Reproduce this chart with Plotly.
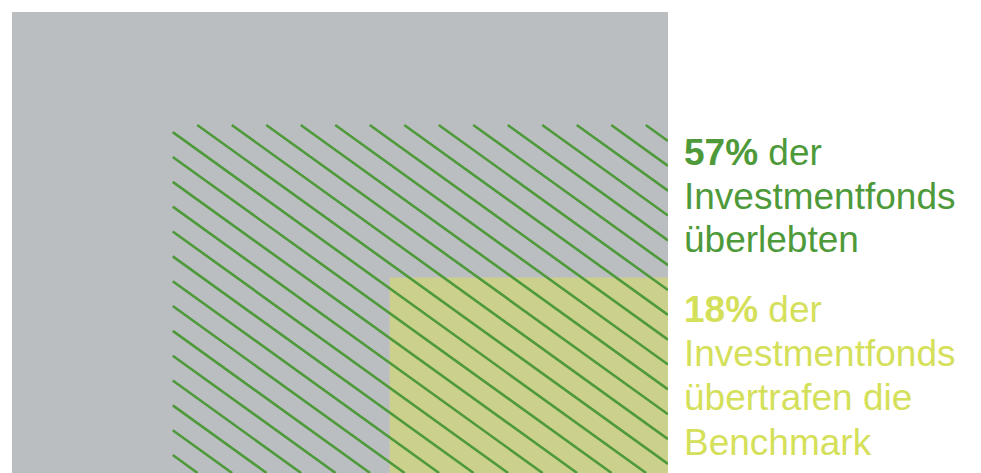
import math
import plotly.graph_objects as go

# Data
categories = ["Alle Investmentfonds", "überlebten", "übertrafen die Benchmark"]
shares = [100, 57, 18]  # percent of all funds
label_pct = ["57%", "18%"]
label_lines_1 = ["der", "Investmentfonds", "überlebten"]
label_lines_2 = ["der", "Investmentfonds", "übertrafen die", "Benchmark"]

GREY = "#bbbec1"
GREEN = "#4e9a3a"
YELLOW_FILL = "#ccd08d"
YELLOW_TEXT = "#d5e05a"

OFF = 8  # default page body margin
W, H = 981 - OFF, 473 - OFF
ML, MR, MT, MB = 12 - OFF, 313, 12 - OFF, 0
PW, PH = W - ML - MR, H - MT - MB  # plot area px

fig = go.Figure()

def rect_for(share):
    s = math.sqrt(share / shares[0])
    return 1 - s, s  # left x, top y (anchored bottom-right)

# grey total
x0, h = rect_for(shares[0])
fig.add_trace(go.Scatter(x=[x0, 1, 1, x0, x0], y=[0, 0, h, h, 0], fill="toself",
                         fillcolor=GREY, line=dict(width=0), mode="lines",
                         hoverinfo="skip", showlegend=False))

# yellow outperformers
yx0, yh = rect_for(shares[2])
fig.add_trace(go.Scatter(x=[yx0, 1, 1, yx0, yx0], y=[0, 0, yh, yh, 0], fill="toself",
                         fillcolor=YELLOW_FILL, line=dict(width=0), mode="lines",
                         hoverinfo="skip", showlegend=False))

# green hatching for survivors
gx0, gh = rect_for(shares[1])
slope_px = 0.72
m = -slope_px * PW / PH
spacing = 34.5 / PW
offset = -10 / PW
hx, hy = [], []
for k in range(-40, 40):
    xk = gx0 + offset + k * spacing
    start = max(xk, gx0)
    end = min(xk - gh / m, 1)
    if start < end:
        hx += [start, end, None]
        hy += [gh + m * (start - xk), gh + m * (end - xk), None]
fig.add_trace(go.Scatter(x=hx, y=hy, mode="lines", line=dict(color=GREEN, width=2.6),
                         hoverinfo="skip", showlegend=False))

FONT = "Arial, 'Liberation Sans', sans-serif"
FS = 37
x_text = (682 - OFF - ML) / PW

def add_block(pct, lines, centers_px, color):
    texts = [f"<b>{pct}</b> {lines[0]}"] + lines[1:]
    for t, cy in zip(texts, centers_px):
        fig.add_annotation(x=x_text, y=(H - MB - (cy - OFF)) / PH, xref="paper", yref="paper",
                           text=t, showarrow=False, xanchor="left", yanchor="middle",
                           font=dict(family=FONT, size=FS, color=color))

add_block(label_pct[0], label_lines_1, [152.5, 196.5, 239.5], GREEN)
add_block(label_pct[1], label_lines_2, [309.5, 353.5, 397.5, 442.5], YELLOW_TEXT)

fig.update_layout(
    width=W, height=H,
    margin=dict(l=ML, r=MR, t=MT, b=MB, pad=0),
    paper_bgcolor="white", plot_bgcolor="white",
    xaxis=dict(range=[0, 1], visible=False, fixedrange=True),
    yaxis=dict(range=[0, 1], visible=False, fixedrange=True),
    showlegend=False,
)

fig.write_html("out.html")
